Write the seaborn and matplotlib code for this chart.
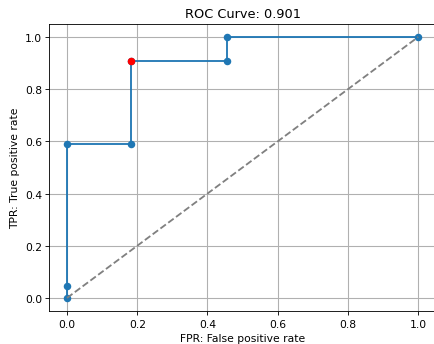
import pandas as pd
import matplotlib
matplotlib.use("Agg")
import matplotlib.pyplot as plt
import seaborn as sns

# roc points (fpr in elevenths, tpr in 22nds)
fpr = [0.0, 0.0, 0.0, 2/11, 2/11, 5/11, 5/11, 1.0]
tpr = [0.0, 1/22, 13/22, 13/22, 20/22, 20/22, 1.0, 1.0]
best_fpr = [2/11]
best_tpr = [20/22]
diag = [0.0, 1.0]
auc_score = 0.901

roc = pd.DataFrame({"fpr": fpr, "tpr": tpr})
best = pd.DataFrame({"fpr": best_fpr, "tpr": best_tpr})

# the reference looks like a default-sized render shrunk down, so use a low dpi
dpi = 77.5
fig = plt.figure(figsize=(434 / dpi, 345 / dpi), dpi=dpi)
ax = fig.add_axes([0.114, 0.0957, 0.89, 0.832])

sns.lineplot(data=roc, x="fpr", y="tpr", sort=False, estimator=None,
             marker="o", markersize=7, markeredgewidth=0, color="#1f77b4",
             linewidth=1.7, ax=ax)
sns.lineplot(x=diag, y=diag, color="gray", linestyle="--", linewidth=1.7, ax=ax)
sns.scatterplot(data=best, x="fpr", y="tpr", color="red", s=49,
                linewidth=0, zorder=5, ax=ax)

ax.set_xlim(-0.05, 1.05)
ax.set_ylim(-0.05, 1.05)
ax.grid(True, linewidth=1.0)
ax.set_title("ROC Curve: %.3f" % auc_score)
ax.set_xlabel("FPR: False positive rate")
ax.set_ylabel("TPR: True positive rate")

fig.savefig("out.png", dpi=dpi)
